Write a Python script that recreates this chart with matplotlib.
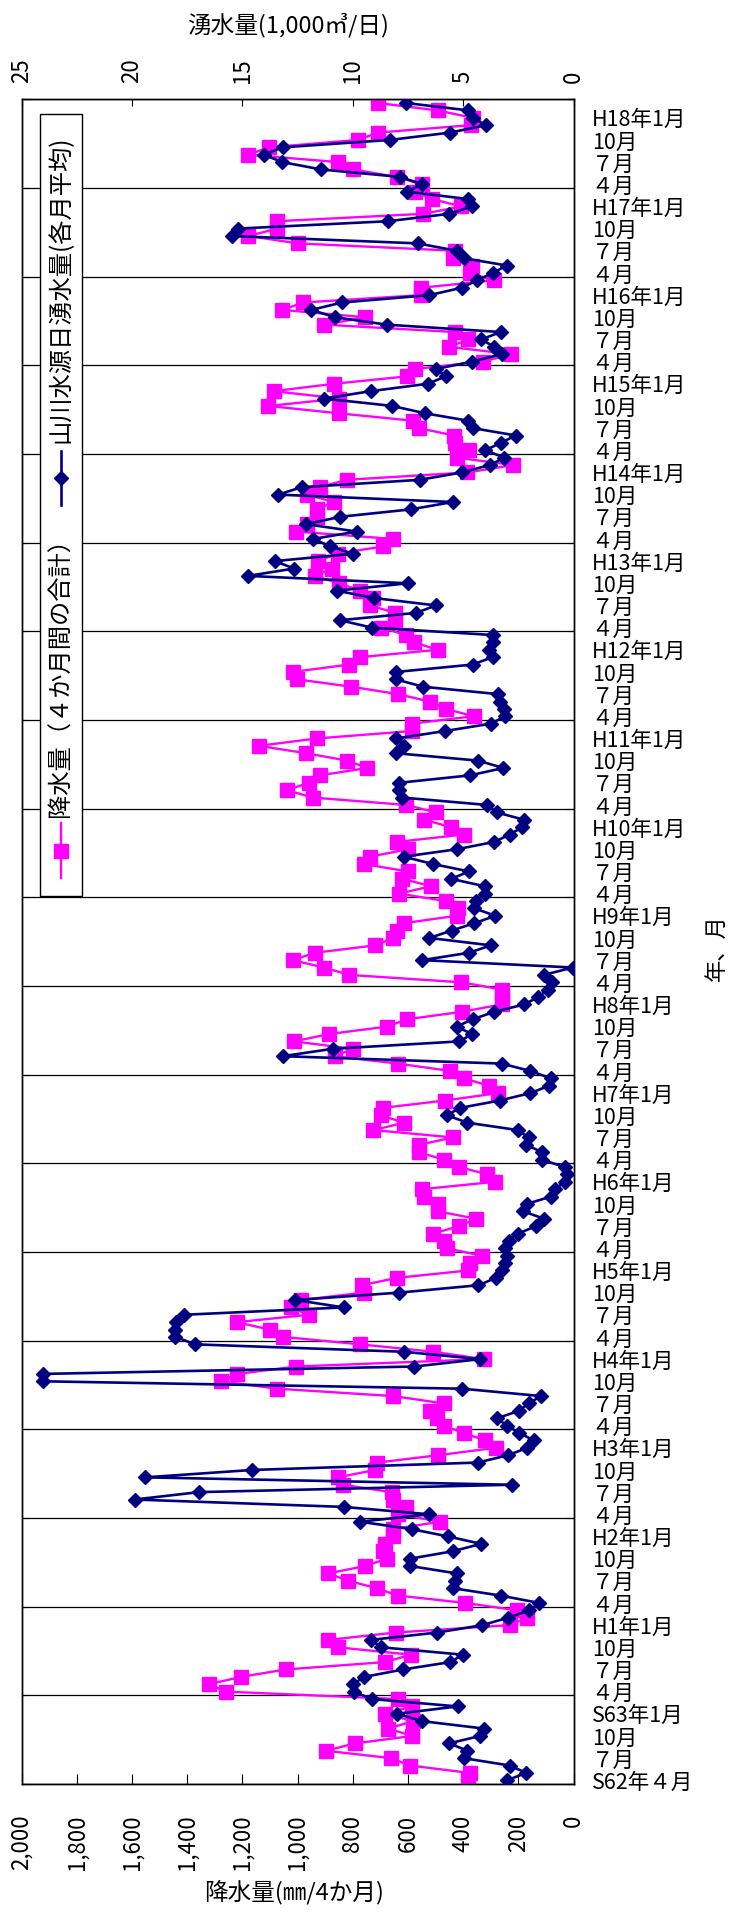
import numpy as np
import matplotlib
matplotlib.use("Agg")
import matplotlib.pyplot as plt
from matplotlib.lines import Line2D
from matplotlib.patches import Rectangle

plt.rcParams['font.family'] = ['Noto Sans CJK JP', 'DejaVu Sans']

# 降水量（４か月間の合計, mm） S62年4月 -> H18年3月, monthly
precip = [
    384, 376, 593, 661, 898, 791, 585, 671, 581, 683, 587, 637,
    1258, 1322, 1204, 1043, 683, 589, 855, 889, 644, 232, 167, 205,
    392, 636, 714, 816, 889, 755, 676, 692, 685, 653, 655, 483,
    637, 607, 653, 659, 836, 855, 718, 711, 490, 281, 320, 398,
    470, 496, 522, 470, 653, 1074, 1279, 1218, 1005, 326, 509, 773,
    1051, 1101, 1221, 960, 1025, 988, 760, 768, 640, 381, 376, 333,
    460, 470, 509, 414, 352, 493, 490, 542, 548, 283, 313, 414,
    470, 561, 561, 437, 725, 614, 698, 692, 466, 274, 307, 398,
    446, 637, 864, 800, 1012, 885, 676, 603, 405, 261, 261, 258,
    407, 813, 905, 1018, 936, 718, 653, 640, 614, 424, 418, 463,
    633, 516, 620, 600, 760, 738, 600, 640, 398, 444, 542, 499,
    607, 945, 1038, 960, 920, 748, 820, 969, 1140, 930, 587, 587,
    362, 463, 522, 636, 805, 1001, 1018, 812, 773, 493, 577, 607,
    698, 646, 646, 738, 725, 773, 851, 937, 875, 927, 855, 689,
    653, 1005, 966, 930, 930, 868, 966, 920, 822, 385, 218, 424,
    379, 431, 433, 561, 581, 851, 1106, 849, 1086, 868, 604, 574,
    330, 225, 450, 381, 428, 903, 755, 1055, 979, 551, 551, 290,
    376, 368, 437, 428, 999, 1178, 1074, 1074, 544, 407, 513, 574,
    548, 640, 800, 852, 1181, 1102, 781, 708, 372, 366, 493, 710,
]

# 山川水源日湧水量（各月平均, 1,000m3/日）
flow = [
    3.02, 2.15, 2.89, 4.98, 4.81, 5.63, 4.24, 4.05, 6.85, 8.00, 5.25, 9.14,
    9.95, 10.0, 9.47, 7.72, 5.58, 5.01, 8.70, 9.19, 6.17, 4.13, 2.97, 2.00,
    1.55, 3.31, 5.47, 5.35, 5.30, 7.39, 7.39, 5.47, 4.19, 5.68, 7.34, 9.68,
    6.53, 10.41, 19.88, 16.97, 2.81, 19.39, 14.56, 4.34, 2.97, 2.09, 1.80, 2.45,
    3.02, 3.46, 2.48, 2.04, 1.47, 5.06, 24.02, 24.02, 7.21, 4.24, 7.70, 17.13,
    18.03, 18.03, 18.0, 17.66, 10.41, 12.6, 7.90, 4.31, 3.51, 3.26, 3.10, 3.02,
    3.10, 2.94, 2.50, 1.71, 1.34, 2.28, 2.12, 1.03, 0.82, 0.41, 0.29, 0.41,
    1.44, 1.42, 2.15, 2.04, 2.53, 4.81, 5.74, 5.14, 3.35, 1.96, 1.11, 1.03,
    1.96, 3.26, 13.17, 10.9, 5.17, 4.60, 5.30, 4.57, 3.59, 2.24, 1.60, 1.18,
    0.98, 1.35, 0.03, 6.85, 4.73, 3.75, 6.53, 5.52, 4.49, 3.54, 4.49, 4.41,
    4.00, 4.03, 5.55, 4.73, 6.36, 7.70, 5.30, 3.59, 2.89, 2.32, 2.25, 3.49,
    3.92, 7.75, 7.91, 7.91, 4.70, 3.18, 4.32, 8.03, 7.67, 8.03, 5.83, 3.75,
    3.10, 3.13, 3.35, 3.43, 6.82, 8.05, 8.03, 4.57, 3.67, 3.83, 3.67, 3.67,
    9.14, 10.57, 7.13, 6.23, 9.02, 10.72, 7.51, 14.74, 12.65, 13.54, 10.0, 11.02,
    11.8, 9.82, 12.11, 10.56, 7.38, 5.47, 13.38, 12.32, 6.97, 5.06, 3.80, 3.13,
    4.00, 3.30, 2.61, 4.57, 4.77, 6.72, 8.21, 11.29, 9.19, 6.61, 5.79, 6.23,
    4.60, 3.26, 3.59, 4.19, 3.30, 8.45, 10.80, 11.88, 10.48, 6.53, 5.06, 4.37,
    3.67, 3.02, 4.98, 5.30, 7.05, 15.47, 15.21, 8.40, 5.63, 4.60, 4.78, 7.56,
    6.85, 7.87, 11.42, 13.19, 14.03, 13.17, 8.32, 5.58, 3.97, 4.57, 4.77, 7.59,
]

# category labels, every 3 months from the bottom
month_labels = [
    "S62年４月", "７月", "10月",
    "S63年1月", "４月", "７月", "10月",
    "H1年1月", "４月", "７月", "10月",
    "H2年1月", "４月", "７月", "10月",
    "H3年1月", "４月", "７月", "10月",
    "H4年1月", "４月", "７月", "10月",
    "H5年1月", "４月", "７月", "10月",
    "H6年1月", "４月", "７月", "10月",
    "H7年1月", "４月", "７月", "10月",
    "H8年1月", "４月", "７月", "10月",
    "H9年1月", "４月", "７月", "10月",
    "H10年1月", "４月", "７月", "10月",
    "H11年1月", "４月", "７月", "10月",
    "H12年1月", "４月", "７月", "10月",
    "H13年1月", "４月", "７月", "10月",
    "H14年1月", "４月", "７月", "10月",
    "H15年1月", "４月", "７月", "10月",
    "H16年1月", "４月", "７月", "10月",
    "H17年1月", "４月", "７月", "10月",
    "H18年1月",
]

precip_ticks = [0, 200, 400, 600, 800, 1000, 1200, 1400, 1600, 1800, 2000]
precip_ticklabels = ["0", "200", "400", "600", "800", "1,000", "1,200",
                     "1,400", "1,600", "1,800", "2,000"]
flow_ticks = [0, 5, 10, 15, 20, 25]

PINK = "#FF00FF"
NAVY = "#000080"

W, H = 731, 1913
fig = plt.figure(figsize=(W / 100, H / 100), dpi=100)


def fx(x):
    return x / W


def fy(y):
    return 1 - y / H


# plot box (pixels from top-left)
L, R, T, B = 21.5, 573.6, 99.3, 1784
ax = fig.add_axes([fx(L), fy(B), (R - L) / W, (B - T) / H])

n = len(precip)
pos = np.arange(n) + 0.5

ax.plot(precip, pos, color=PINK, lw=1.7, marker="s", ms=10.5,
        mfc=PINK, mec=PINK, zorder=3)
ax.set_xlim(2000, 0)
ax.set_ylim(0, n)

# yearly gridlines (April boundaries)
ax.set_yticks(np.arange(0, n + 1, 12))
ax.grid(axis="y", which="major", color="black", lw=0.9)
ax.tick_params(axis="y", which="major", direction="in", length=5,
               left=True, right=True, labelleft=False, labelright=False)

# month labels on the right
ax.set_yticks(np.arange(0, n, 3) + 0.5, labels=month_labels, minor=True)
ax.tick_params(axis="y", which="minor", length=0, pad=13, labelsize=15.5,
               left=False, right=False, labelleft=False, labelright=True)

ax.set_xticks(precip_ticks, labels=precip_ticklabels, rotation=90)
ax.tick_params(axis="x", direction="in", length=7, pad=22, labelsize=16)

ax2 = ax.twiny()
ax2.plot(flow, pos, color=NAVY, lw=1.9, marker="D", ms=7.4,
         mfc=NAVY, mec=NAVY, zorder=3)
ax2.set_xlim(25, 0)
ax2.set_xticks(flow_ticks, labels=[str(v) for v in flow_ticks], rotation=90)
ax2.tick_params(axis="x", direction="in", length=5, pad=12, labelsize=16)

for a in (ax, ax2):
    for s in a.spines.values():
        s.set_color("black")
        s.set_linewidth(1.0)

# axis titles
fig.text(fx(288), fy(25), "湧水量(1,000㎥/日)", ha="center", va="center",
         fontsize=17)
fig.text(fx(294), fy(1892), "降水量(㎜/4か月)", ha="center", va="center",
         fontsize=17)
fig.text(fx(716), fy(948), "年、月", ha="center", va="center",
         rotation=90, fontsize=16)

# legend (rotated, drawn by hand)
fig.add_artist(Rectangle((fx(40), fy(896)), 42 / W, (896 - 114) / H,
                         transform=fig.transFigure, facecolor="white",
                         edgecolor="black", lw=1.0, zorder=5))
lx = fx(61)
fig.add_artist(Line2D([lx, lx], [fy(823), fy(878)], transform=fig.transFigure,
                      color=PINK, lw=1.7, zorder=6))
fig.add_artist(Line2D([lx], [fy(851)], transform=fig.transFigure, marker="s",
                      ms=10.5, color=PINK, zorder=7))
fig.text(lx, fy(817), "降水量（４か月間の合計）", rotation=90, ha="center",
         va="bottom", fontsize=17.5, zorder=7)
fig.add_artist(Line2D([lx, lx], [fy(451), fy(505)], transform=fig.transFigure,
                      color=NAVY, lw=1.9, zorder=6))
fig.add_artist(Line2D([lx], [fy(478)], transform=fig.transFigure, marker="D",
                      ms=7.4, color=NAVY, zorder=7))
fig.text(lx, fy(443), "山川水源日湧水量(各月平均)", rotation=90, ha="center",
         va="bottom", fontsize=17.5, zorder=7)

fig.savefig("out.png", dpi=100)
